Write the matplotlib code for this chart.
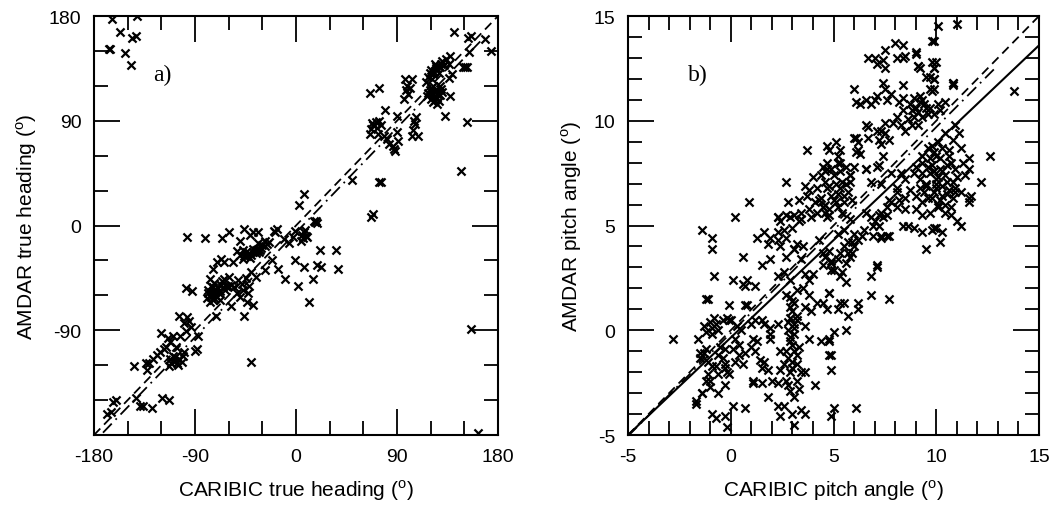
import matplotlib
matplotlib.use("Agg")
import matplotlib.pyplot as plt
import numpy as np
from matplotlib.ticker import MultipleLocator

plt.rcParams['font.family'] = ['Liberation Sans', 'DejaVu Sans']
plt.rcParams['mathtext.fontset'] = 'custom'
plt.rcParams['mathtext.rm'] = 'Liberation Sans'
plt.rcParams['axes.unicode_minus'] = False

# --- panel a: true heading (CARIBIC x, AMDAR y), degrees ---
heading_pts = [
    (-164, 177), (-142, 180), (-157, 166), (-143, 163), (-146, 161), (-167, 152), (-166, 152),
    (-152, 148), (-147, 138),
    (141, 166), (153, 161), (156, 163), (168, 160), (174, 150), (154, 149), (149, 136), (151, 136),
    (152, 136), (139, 130), (136, 127), (137, 111), (133, 94), (152, 89), (147, 47), (156, -89),
    (162, -178),
    (116, 123), (120, 134), (124, 139), (130, 141), (137, 146), (136, 139), (127, 131), (121, 126),
    (118, 128), (125, 135), (132, 138), (128, 136), (122, 130), (134, 143), (119, 131),
    (125, 137), (129, 139), (123, 132),
    (119, 116), (123, 111), (127, 107), (120, 109), (124, 116), (129, 117), (117, 111), (126, 104),
    (122, 106), (125, 110), (121, 113), (128, 112), (124, 108), (118, 114), (126, 113), (130, 115),
    (122, 120), (126, 116), (120, 118), (128, 120),
    (66, 114), (74, 118), (97, 126), (103, 126), (99, 120), (96, 109), (100, 113), (98, 116),
    (102, 118), (107, 93), (106, 87), (103, 77), (109, 77), (104, 82), (105, 90),
    (79, 99), (90, 94), (67, 83), (71, 89), (76, 86), (66, 79), (73, 79), (83, 70), (87, 66),
    (91, 73), (90, 80), (69, 86), (72, 84), (74, 90), (68, 88), (86, 68), (88, 64), (78, 77), (81, 74),
    (50, 39), (76, 37), (74, 37), (69, 10), (67, 7),
    (3, 18), (7, 27), (16, 4), (19, 2), (17, 3), (18, 4), (7, -6), (10, -10), (4, -13), (5, -8),
    (9, -9), (6, -11), (8, -4), (21, -21), (36, -21), (37, -37), (-1, -30), (7, -36), (19, -34),
    (22, -36), (15, -46), (2, -52), (-10, -46), (12, -66), (-16, -37), (-21, -30), (-28, -38),
    (-34, -15), (-47, -21),
    (-97, -10), (-81, -11), (-66, -11), (-60, -6), (-46, -3), (-50, -13), (-41, -8), (-34, -6),
    (-38, -6), (-28, -13), (-20, -5), (-17, -3), (-19, -6), (-11, -12), (-6, -15), (-3, -10), (-1, -5),
    (-53, -22), (-50, -25), (-44, -26), (-38, -23), (-36, -21), (-31, -19), (-28, -18), (-41, -28),
    (-47, -29), (-34, -20), (-33, -23), (-45, -23), (-40, -25), (-36, -24), (-30, -17), (-26, -16),
    (-24, -14), (-42, -24), (-38, -20), (-35, -22), (-32, -21), (-46, -26),
    (-67, -29), (-70, -31), (-64, -31), (-56, -31), (-74, -37), (-77, -46), (-73, -49),
    (-76, -52), (-71, -55), (-67, -51), (-64, -46), (-60, -44), (-76, -61), (-78, -58), (-70, -61),
    (-63, -55), (-58, -51), (-74, -64), (-68, -64), (-72, -57), (-66, -48), (-62, -52), (-79, -62),
    (-77, -66), (-69, -58), (-74, -53), (-61, -52), (-72, -60), (-75, -57), (-70, -53), (-65, -53),
    (-68, -56), (-78, -55), (-73, -62),
    (-47, -55), (-53, -58), (-50, -61), (-44, -66), (-38, -68), (-58, -69), (-71, -78), (-46, -78),
    (-43, -58), (-48, -50), (-45, -45), (-52, -47), (-40, -40), (-42, -52), (-36, -44), (-55, -53),
    (-98, -54), (-93, -56), (-40, -117),
    (-104, -78), (-97, -79), (-94, -87), (-98, -91), (-103, -95), (-87, -95), (-90, -108), (-88, -106),
    (-100, -84), (-95, -82), (-120, -92), (-110, -95), (-116, -104), (-121, -109), (-127, -115),
    (-131, -118), (-107, -104), (-110, -112), (-104, -115), (-113, -121), (-106, -118), (-101, -112),
    (-100, -109), (-108, -116), (-111, -118), (-124, -111), (-118, -106), (-112, -100), (-114, -97),
    (-108, -113), (-105, -120), (-112, -115), (-102, -117),
    (-144, -121), (-134, -118), (-133, -124),
    (-160, -150), (-163, -152), (-143, -148), (-139, -155), (-136, -155), (-128, -157), (-119, -148),
    (-113, -150), (-165, -160), (-168, -162),
]

# --- panel b: pitch angle (CARIBIC x, AMDAR y), degrees ---
pitch_pts = [
    (3.7, 8.6), (4.7, 8.8), (4.8, 8.6), (2.7, 7.1), (4.0, 7.3), (4.5, 7.8), (4.6, 7.6), (4.7, 7.7),
    (3.6, 6.9), (3.8, 6.7), (4.2, 6.8), (4.6, 7.1), (0.9, 6.1), (2.8, 6.1), (3.3, 6.2), (3.7, 6.4),
    (3.8, 5.8), (4.3, 6.2), (4.5, 5.9), (4.6, 5.6), (4.8, 5.5), (0.2, 5.4), (2.3, 5.4), (2.7, 5.5),
    (3.1, 5.5), (3.4, 5.3), (3.9, 5.4), (2.4, 5.2),
    (10.1, 14.5), (11.0, 14.6), (9.8, 13.8), (8.0, 13.7), (8.4, 13.6), (7.5, 13.4), (6.7, 13.0),
    (7.0, 13.0), (7.4, 12.9), (7.1, 12.7), (7.5, 12.5), (8.1, 13.0), (8.4, 13.0), (8.5, 13.1),
    (9.0, 13.2), (9.1, 12.6), (9.2, 12.5), (9.8, 12.8), (9.9, 12.5), (9.5, 12.1), (9.9, 12.0),
    (10.8, 11.8), (10.8, 11.7), (9.7, 11.5), (9.8, 11.4), (8.4, 11.7), (7.4, 11.8), (7.5, 11.5),
    (6.0, 11.5), (6.1, 10.9), (6.3, 10.8), (6.6, 11.0), (6.8, 10.8), (7.0, 11.0), (7.1, 11.2),
    (7.6, 11.0), (7.8, 11.3), (8.4, 11.1), (8.2, 10.9), (8.9, 11.1), (9.2, 10.9), (9.3, 11.0),
    (9.0, 10.6), (9.5, 10.6), (8.9, 10.2), (8.6, 10.1), (8.4, 10.5), (8.1, 10.2), (7.9, 9.9),
    (8.3, 9.8), (8.5, 9.5), (8.8, 9.8), (9.1, 9.8), (9.3, 10.2), (9.7, 10.6), (10.1, 10.8), (10.4, 10.9),
    (9.1, 10.4), (9.4, 10.8), (9.6, 10.3), (8.7, 10.8), (9.9, 10.3), (8.8, 10.5), (9.2, 11.2),
    (10.2, 10.5),
    (7.5, 9.9), (7.1, 9.5), (7.5, 9.4), (7.2, 9.1), (7.3, 8.9), (6.6, 9.8), (6.7, 9.2), (6.0, 9.2),
    (6.2, 9.0), (5.1, 9.0), (5.3, 8.6), (6.1, 8.5), (6.3, 8.4), (5.2, 8.0), (4.9, 7.7), (6.0, 7.8),
    (6.6, 7.7), (7.2, 7.9), (5.8, 7.4), (5.4, 7.1), (5.8, 7.1), (4.7, 6.8), (5.2, 6.5), (5.5, 6.4),
    (5.1, 6.1), (4.8, 5.8), (5.4, 5.6), (5.8, 5.3),
    (5.0, 7.4), (5.3, 7.6), (5.6, 7.8), (5.1, 7.0), (4.9, 6.4), (5.3, 6.8), (5.7, 6.6), (4.6, 6.0),
    (5.9, 6.2), (5.2, 5.9), (4.4, 7.4), (4.1, 6.1),
    (10.9, 9.8), (11.1, 9.4), (10.8, 9.1), (11.2, 8.7), (11.6, 8.2), (11.6, 7.7), (11.4, 7.4),
    (10.9, 7.7), (10.6, 8.3), (10.3, 8.7), (10.0, 8.3), (9.7, 8.2), (9.3, 8.0), (9.8, 7.9), (10.2, 7.7),
    (10.4, 7.4), (10.0, 7.2), (9.7, 7.5), (9.3, 7.5), (9.2, 7.2), (9.5, 6.9), (10.0, 6.8), (10.3, 6.9),
    (10.6, 6.7), (10.9, 6.8), (10.3, 6.4), (9.8, 6.3), (9.3, 6.1), (9.0, 6.4), (8.7, 6.7), (8.5, 7.2),
    (8.3, 7.5), (8.9, 7.5), (9.0, 7.8), (9.3, 8.3), (9.6, 8.7), (9.8, 8.8), (10.1, 9.0), (10.4, 9.4),
    (10.2, 8.2), (10.5, 7.9), (11.6, 6.3), (11.6, 6.1), (12.6, 8.3), (12.2, 7.1), (13.8, 11.4),
    (8.5, 5.8), (9.0, 5.8), (9.3, 5.5), (9.7, 5.6), (10.1, 5.9), (10.4, 5.6), (10.7, 5.5), (11.0, 5.2),
    (8.1, 6.8), (7.7, 6.2), (8.5, 6.3), (7.6, 5.5), (6.6, 5.6), (7.2, 5.5), (7.0, 5.2),
    (10.0, 7.0), (10.1, 7.3), (9.9, 6.6), (10.2, 6.2), (10.5, 7.1), (9.6, 7.8), (10.7, 8.0),
    (10.8, 6.3), (9.4, 6.6), (10.4, 6.0), (11.0, 7.3), (9.9, 7.6),
    (9.5, 7.0), (10.3, 7.6), (10.6, 8.6), (9.9, 8.5), (10.8, 7.1), (9.6, 6.3), (10.5, 6.5),
    (11.2, 6.6), (11.3, 8.0), (10.1, 6.0), (9.2, 6.8), (10.7, 5.9),
    (-1.4, 4.8), (-0.9, 4.4), (-0.9, 3.9), (0.6, 3.5), (-0.8, 2.6), (-1.2, 1.5), (-1.1, 1.5),
    (-2.8, -0.4), (-0.1, 1.2), (0.1, 2.4), (0.6, 2.2), (0.8, 2.4), (0.7, 2.1), (1.2, 2.1), (1.3, 4.4),
    (1.6, 4.7), (1.8, 4.1), (1.9, 4.4), (2.3, 4.7), (2.3, 4.3), (2.7, 4.4), (3.0, 4.9), (3.2, 4.1),
    (3.5, 4.0), (3.1, 3.9), (2.7, 3.5), (1.5, 3.1), (1.9, 3.4), (2.3, 2.6), (2.6, 2.8), (2.9, 2.4),
    (3.6, 2.7), (3.8, 2.4), (4.0, 2.7), (4.5, 3.1), (4.6, 3.5), (4.8, 1.8), (4.2, 1.3), (4.5, 1.3),
    (3.8, 1.7), (3.5, 2.0), (3.2, 1.9), (2.7, 1.7), (2.9, 1.1), (3.1, 1.3), (3.6, 1.1), (3.9, 0.9),
    (3.6, 0.2), (3.2, 0.7), (2.9, 0.6), (3.1, 0.3), (2.8, 0.0), (3.1, -0.2), (2.9, -0.5), (2.7, -1.0),
    (3.1, -1.0), (3.0, -1.5), (2.6, -1.6), (2.4, -1.0), (3.2, -1.6), (3.4, -2.0), (3.6, -2.0),
    (2.9, -2.0), (2.7, -2.4), (3.2, -2.4), (3.1, -3.2), (2.9, -2.9), (2.6, -3.6), (3.0, -4.0),
    (3.1, -4.5), (3.6, -4.0), (3.4, -3.8), (4.1, -2.6), (4.4, -0.5), (4.8, -0.4), (4.8, -1.2),
    (3.8, -0.4), (2.3, 0.3), (1.9, 0.1), (1.6, 0.3), (1.5, 0.5), (1.2, 0.5), (1.0, 0.3), (1.9, -0.2),
    (1.3, -0.5), (1.0, -0.8), (1.2, -1.0), (0.7, -1.1), (0.4, -1.2), (0.6, -1.6), (0.2, -1.5),
    (1.4, -1.4), (1.6, -1.5), (1.8, -1.9), (1.5, -1.8), (2.0, -2.4), (2.3, -2.5), (1.8, -3.2),
    (2.3, -3.6), (2.4, -4.1), (1.1, -2.4), (1.1, -2.5), (1.5, -2.5), (0.7, -3.7), (0.1, -3.6),
    (-0.2, -2.0), (-0.3, -1.6), (-0.3, -1.8), (-0.6, -2.1), (-1.1, -2.1), (-1.2, -2.4), (-1.0, -2.7),
    (-1.4, -3.0), (-1.7, -3.4), (-0.6, -3.0), (-0.3, -2.6), (-0.9, -4.0), (-0.7, -4.2), (-0.3, -4.1),
    (-0.2, -4.6), (-0.7, -1.7), (-0.6, -1.2), (0.4, -0.7), (0.2, -0.4), (-0.3, -0.9), (-0.5, -0.8),
    (-1.2, -0.9), (-1.5, -1.3), (-1.1, -1.5), (-1.6, -0.4), (-1.5, -1.1), (-1.2, -0.1), (-0.9, -0.2),
    (-0.7, 0.3), (-0.4, 0.5), (-0.1, 0.5), (0.0, 0.5), (-0.2, 0.6), (-0.8, 0.6), (-1.0, 0.4),
    (-0.9, 0.1), (-0.6, 0.0), (0.3, 0.2), (0.8, 1.2), (0.7, 1.2), (2.4, -1.9), (1.9, -0.4), (1.1, -0.4),
    (3.0, 0.9), (2.9, -0.3), (3.0, -0.7), (3.2, -1.2), (2.8, -1.3), (3.0, -1.8), (3.1, 0.1),
    (2.8, 0.4), (3.0, 1.4), (3.3, -0.8), (3.2, 0.5), (2.9, 1.6), (3.3, -2.8), (2.8, -2.6),
    (0.1, -0.9), (-0.4, -1.3), (0.5, 0.0), (-1.3, 0.2),
    (6.9, 5.0), (7.3, 4.4), (7.6, 4.5), (8.4, 5.0), (8.9, 4.9), (9.3, 4.7), (9.8, 4.8), (10.0, 4.9),
    (10.3, 4.7), (10.2, 4.2), (9.5, 3.9), (11.2, 5.0), (6.4, 4.5), (6.0, 4.6), (5.9, 4.2), (5.5, 4.0),
    (5.3, 3.7), (5.7, 3.7), (5.9, 3.7), (5.2, 3.4), (4.9, 3.3), (4.9, 2.9), (5.3, 2.6), (5.6, 2.3),
    (7.1, 3.0), (6.8, 2.6), (6.8, 1.7), (7.7, 1.5), (4.8, 1.8), (4.7, 1.0), (5.2, 1.0), (5.3, 1.3),
    (5.5, 1.3), (5.7, 0.7), (6.2, 1.3), (6.2, 1.0), (5.0, -0.1), (4.8, -0.5), (5.6, 0.0), (4.9, -1.2),
    (4.9, -1.9), (5.0, -3.7), (4.9, -4.1), (6.1, -3.7),
    (4.7, 8.0), (5.2, 8.3), (5.3, 8.0), (5.8, 7.4), (4.5, 5.9), (4.7, 5.4), (5.0, 6.2), (5.5, 6.1),
    (4.8, 6.9), (5.6, 7.0), (4.4, 6.3), (4.2, 5.6),
    (2.4, 4.0), (3.1, 3.9), (3.4, 3.4), (4.3, 4.3), (4.5, 3.7), (4.9, 3.2), (5.0, 2.9), (5.4, 2.8),
    (5.6, 3.2), (5.8, 3.5), (6.0, 4.0), (4.8, 3.8), (5.2, 4.6), (5.5, 4.8), (5.7, 4.2),
    (6.2, 4.3), (6.5, 4.8), (6.8, 5.4), (6.9, 4.5), (7.3, 5.6), (7.2, 5.0), (7.4, 5.4), (7.7, 4.5),
    (7.8, 6.1), (8.1, 5.9), (8.2, 6.2), (7.3, 4.5), (7.6, 5.9), (8.6, 5.0), (7.1, 3.1),
    (6.1, 9.2), (6.2, 8.6), (6.6, 7.7), (6.8, 7.1), (7.1, 7.8), (7.4, 8.3), (7.3, 7.0), (7.8, 7.5),
    (8.1, 6.6), (7.3, 9.5), (7.7, 9.1), (6.7, 9.7),
    (9.9, 13.8), (10.0, 12.8), (9.9, 12.5), (9.9, 12.0), (9.9, 11.5), (10.8, 11.8), (9.0, 13.3),
    (9.1, 12.6), (9.7, 12.1), (9.9, 4.9), (10.9, 6.6), (11.7, 6.4),
    (-1.3, -1.1), (-1.7, -3.5), (-1.4, -3.0), (-1.0, -2.4), (-0.1, -2.1), (-0.9, -1.7),
    (2.3, 5.4), (2.6, 4.8), (2.9, 5.4), (3.3, 5.2), (3.4, 5.6),
]

heading_x, heading_y = np.array(heading_pts).T
pitch_x, pitch_y = np.array(pitch_pts).T

fig = plt.figure(figsize=(10.61, 5.06), dpi=100)
ax1 = fig.add_axes([0.0886, 0.1383, 0.3808, 0.8281])
ax2 = fig.add_axes([0.5919, 0.1383, 0.3874, 0.8281])

mk = dict(marker='x', color='black', s=34, linewidths=1.6, zorder=3)

# panel a
ax1.plot([-180, 180], [-180, 180], color='black', lw=1.3, dashes=(5, 3))
ax1.plot([-172, 168], [-178, 162], color='black', lw=1.3, dashes=(7, 3, 1, 3))
ax1.scatter(heading_x, heading_y, **mk)
ax1.set_xlim(-180, 180)
ax1.set_ylim(-180, 180)
ax1.set_xticks([-180, -90, 0, 90, 180])
ax1.set_yticks([-90, 0, 90, 180])
ax1.xaxis.set_minor_locator(MultipleLocator(30))
ax1.yaxis.set_minor_locator(MultipleLocator(30))
ax1.set_xlabel(r'CARIBIC true heading ($^{\rm o}$)', fontsize=15, labelpad=9)
ax1.set_ylabel(r'AMDAR true heading ($^{\rm o}$)', fontsize=15, labelpad=7)
ax1.text(-119, 130, 'a)', family='Liberation Serif', fontsize=17, ha='center', va='center')

# panel b
ax2.plot([-5, 15], [-5, 15], color='black', lw=1.3, dashes=(5, 3))
ax2.plot([-5, 12.8], [-5.05, 12.45], color='black', lw=1.3, dashes=(7, 3, 1, 3))
ax2.plot([-5, 15], [-5, 13.6], color='black', lw=1.5)
ax2.scatter(pitch_x, pitch_y, **mk)
ax2.set_xlim(-5, 15)
ax2.set_ylim(-5, 15)
ax2.set_xticks([-5, 0, 5, 10, 15])
ax2.set_yticks([-5, 0, 5, 10, 15])
ax2.xaxis.set_minor_locator(MultipleLocator(1))
ax2.yaxis.set_minor_locator(MultipleLocator(1))
ax2.set_xlabel(r'CARIBIC pitch angle ($^{\rm o}$)', fontsize=15, labelpad=9)
ax2.set_ylabel(r'AMDAR pitch angle ($^{\rm o}$)', fontsize=15, labelpad=7)
ax2.text(-1.6, 12.2, 'b)', family='Liberation Serif', fontsize=17, ha='center', va='center')

for ax in (ax1, ax2):
    for sp in ax.spines.values():
        sp.set_linewidth(1.5)
    ax.tick_params(which='both', direction='in', top=True, right=True, width=1.3,
                   labelsize=14, pad=9)
    ax.tick_params(which='major', length=19)
    ax.tick_params(which='minor', length=10)

fig.savefig('out.png', dpi=100)
